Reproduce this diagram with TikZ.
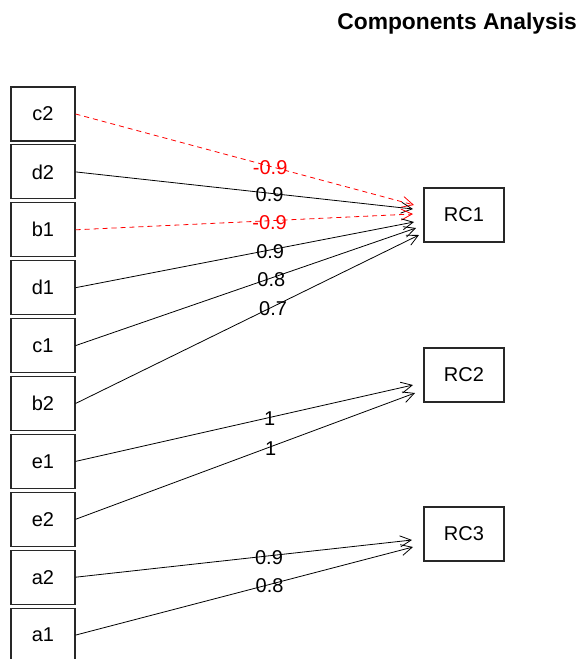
\documentclass[tikz,border=0pt]{standalone}
\usepackage{fontspec}
\setmainfont{Liberation Sans}
\usetikzlibrary{arrows.meta}

\definecolor{negred}{RGB}{255,0,0}
\definecolor{boxline}{RGB}{40,40,40}

\tikzset{
  varbox/.style={draw=boxline, line width=1.1pt, minimum width=64pt, minimum height=54pt,
    inner sep=0pt, font=\fontsize{20}{20}\selectfont},
  compbox/.style={draw=boxline, line width=1.1pt, minimum width=80pt, minimum height=54pt,
    inner sep=0pt, font=\fontsize{20}{20}\selectfont},
  loading/.style={line width=0.8pt, -{Straight Barb[length=11pt, width=11pt, line width=0.8pt]}},
  posload/.style={loading, black},
  negload/.style={loading, negred, dash pattern=on 5pt off 4pt},
  lbl/.style={pos=0.575, inner sep=0pt, yshift=-1.5pt, font=\fontsize{20}{20}\selectfont},
  poslbl/.style={lbl, text=black},
  neglbl/.style={lbl, text=negred}
}

\begin{document}
\begin{tikzpicture}[x=1pt, y=-1pt]
  \useasboundingbox (0,0) rectangle (578,659);
  \clip (0,0) rectangle (578,659);

  % title
  \node[anchor=base east, inner sep=0pt, font=\bfseries\fontsize{22.8}{22.8}\selectfont]
    (title) at (577,29) {Components Analysis};

  % observed variables
  \node[varbox] (c2) at (43,114.0) {c2};
  \node[varbox] (d2) at (43,171.9) {d2};
  \node[varbox] (b1) at (43,229.8) {b1};
  \node[varbox] (d1) at (43,287.7) {d1};
  \node[varbox] (c1) at (43,345.6) {c1};
  \node[varbox] (b2) at (43,403.5) {b2};
  \node[varbox] (e1) at (43,461.4) {e1};
  \node[varbox] (e2) at (43,519.3) {e2};
  \node[varbox] (a2) at (43,577.2) {a2};
  \node[varbox] (a1) at (43,635.1) {a1};

  % components
  \node[compbox] (RC1) at (464,215) {RC1};
  \node[compbox] (RC2) at (464,375) {RC2};
  \node[compbox] (RC3) at (464,534) {RC3};

  % arrow end points in front of the components
  \coordinate (t1a) at (414,205);
  \coordinate (t1b) at (413,209);
  \coordinate (t1c) at (413,214);
  \coordinate (t1d) at (414,222);
  \coordinate (t1e) at (416,228);
  \coordinate (t1f) at (419,235);
  \coordinate (t2a) at (413,385);
  \coordinate (t2b) at (415,393);
  \coordinate (t3a) at (412,540);
  \coordinate (t3b) at (413,547);

  % loadings on RC1
  \draw[negload] (c2.east) -- node[neglbl] {-0.9} (t1a);
  \draw[posload] (d2.east) -- node[poslbl] {0.9} (t1b);
  \draw[negload] (b1.east) -- node[neglbl] {-0.9} (t1c);
  \draw[posload] (d1.east) -- node[poslbl] {0.9} (t1d);
  \draw[posload] (c1.east) -- node[poslbl] {0.8} (t1e);
  \draw[posload] (b2.east) -- node[poslbl] {0.7} (t1f);

  % loadings on RC2
  \draw[posload] (e1.east) -- node[poslbl] {1} (t2a);
  \draw[posload] (e2.east) -- node[poslbl] {1} (t2b);

  % loadings on RC3
  \draw[posload] (a2.east) -- node[poslbl] {0.9} (t3a);
  \draw[posload] (a1.east) -- node[poslbl] {0.8} (t3b);
\end{tikzpicture}
\end{document}
